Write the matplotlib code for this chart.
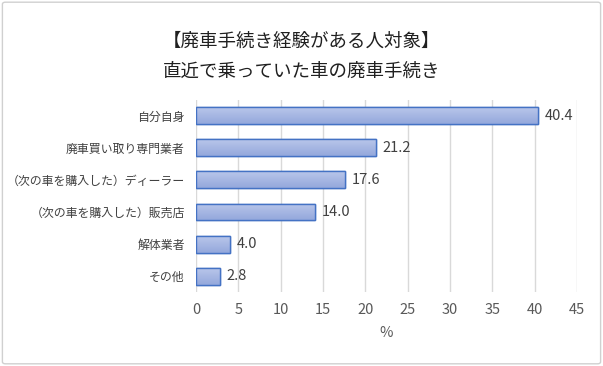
import matplotlib.pyplot as plt
import numpy as np
from matplotlib.patches import FancyBboxPatch

plt.rcParams['font.family'] = ['Noto Sans CJK JP', 'DejaVu Sans']

title_lines = ["【廃車手続き経験がある人対象】", "直近で乗っていた車の廃車手続き"]
categories = ["自分自身", "廃車買い取り専門業者", "（次の車を購入した）ディーラー",
              "（次の車を購入した）販売店", "解体業者", "その他"]
values = [40.4, 21.2, 17.6, 14.0, 4.0, 2.8]
xticks = [0, 5, 10, 15, 20, 25, 30, 35, 40, 45]


def main():
    fig = plt.figure(figsize=(6.03, 3.66), dpi=100)
    # outer frame
    fig.patches.append(FancyBboxPatch((0.004, 0.006), 0.992, 0.988,
                                      boxstyle="round,pad=0,rounding_size=0.005",
                                      transform=fig.transFigure, fill=False,
                                      edgecolor="#d0d0d0", linewidth=1))

    ax = fig.add_axes([0.325, 0.202, 0.632, 0.525])
    ind = np.arange(len(categories))
    rects = ax.barh(ind, values, height=0.53, color="#a5b6e2",
                    edgecolor="#4472c4", linewidth=1.0, zorder=3)

    # vertical gradient inside each bar
    grad = np.linspace(0, 1, 64).reshape(-1, 1)
    cmap = plt.matplotlib.colors.LinearSegmentedColormap.from_list(
        "g", ["#b9c6ea", "#94a8dc"])
    for r in rects:
        x0, y0 = r.get_x(), r.get_y()
        w, h = r.get_width(), r.get_height()
        im = ax.imshow(grad, extent=[x0, x0 + w, y0 + h, y0], aspect="auto",
                       cmap=cmap, zorder=3.5, origin="upper")
        im.set_clip_path(r)
        r2 = plt.Rectangle((x0, y0), w, h, fill=False, edgecolor="#4472c4",
                           linewidth=1.0, zorder=4)
        ax.add_patch(r2)

    for i, v in enumerate(values):
        ax.text(v + 0.8, i, f"{v:.1f}", va="center", ha="left",
                fontsize=10.5, color="#404040")

    ax.set_xlim(0, 45)
    ax.set_ylim(len(categories) - 0.5, -0.5)
    ax.set_xticks(xticks)
    ax.set_yticks(ind)
    ax.set_yticklabels(categories, fontsize=8.6, color="#404040")
    ax.tick_params(axis="x", labelsize=10.5, colors="#595959", length=0, pad=8)
    ax.tick_params(axis="y", length=0, pad=8)
    ax.xaxis.grid(True, color="#d9d9d9", linewidth=1, zorder=0)
    ax.set_axisbelow(True)
    for s in ax.spines.values():
        s.set_visible(False)
    ax.set_xlabel("%", fontsize=10.5, color="#595959", labelpad=6)

    fig.text(0.5, 0.885, title_lines[0], ha="center", va="center",
             fontsize=13.3, color="#202020")
    fig.text(0.5, 0.803, title_lines[1], ha="center", va="center",
             fontsize=13.3, color="#202020")

    plt.savefig("out.png", dpi=100)


if __name__ == '__main__':
    main()
